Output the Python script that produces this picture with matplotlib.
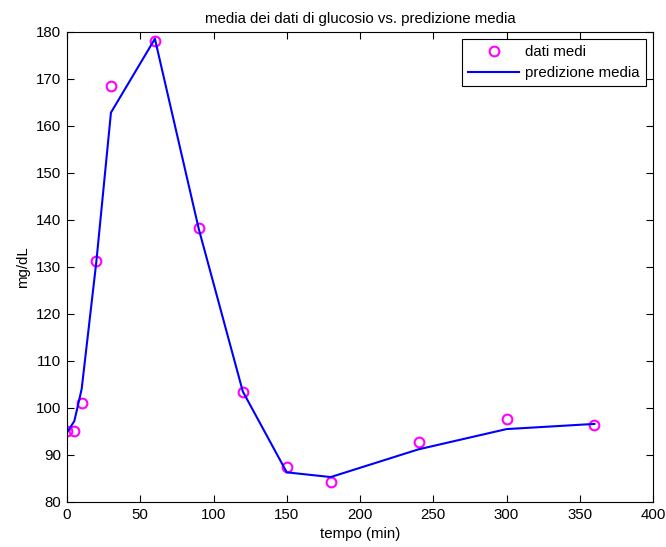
import numpy as np
import matplotlib
matplotlib.use('Agg')
import matplotlib.pyplot as plt

plt.rcParams['font.family'] = ['Liberation Sans', 'DejaVu Sans']

# sampling times (min) and mean glucose values (mg/dL)
tempo = [0, 5, 10, 20, 30, 60, 90, 120, 150, 180, 240, 300, 360]
dati_medi = [95.0, 95.0, 101.0, 131.2, 168.5, 178.0, 138.3, 103.4, 87.5, 84.3, 92.7, 97.7, 96.4]
# model prediction at the same times
predizione = [94.8, 97.2, 104.0, 131.0, 162.8, 178.5, 138.0, 103.5, 86.3, 85.3, 91.2, 95.5, 96.6]

fig = plt.figure(figsize=(6.66, 5.47), dpi=100)
ax = fig.add_axes([0.1006, 0.0823, 0.8799, 0.8597])

ax.plot(tempo, dati_medi, 'o', color='magenta', markerfacecolor='none',
        markersize=7, markeredgewidth=1.5, label='dati medi')
ax.plot(tempo, predizione, '-', color='blue', linewidth=1.5, label='predizione media')

ax.set_xlim(0, 400)
ax.set_ylim(80, 180)
ax.set_xticks(np.arange(0, 401, 50))
ax.set_yticks(np.arange(80, 181, 10))
ax.tick_params(direction='in', top=True, right=True, labelsize=10.8, length=5, pad=4)

ax.set_xlabel('tempo (min)', fontsize=10.8, labelpad=4)
ax.set_ylabel('mg/dL', fontsize=10.8, labelpad=4)
ax.set_title('media dei dati di glucosio vs. predizione media', fontsize=10.8, pad=6)

leg = ax.legend(loc='upper right', fontsize=10.8, fancybox=False, framealpha=1,
                edgecolor='black', borderaxespad=0.5, handlelength=3.4,
                handletextpad=0.4, labelspacing=0.45)
leg.get_frame().set_linewidth(0.8)

fig.savefig('out.png', dpi=100)
